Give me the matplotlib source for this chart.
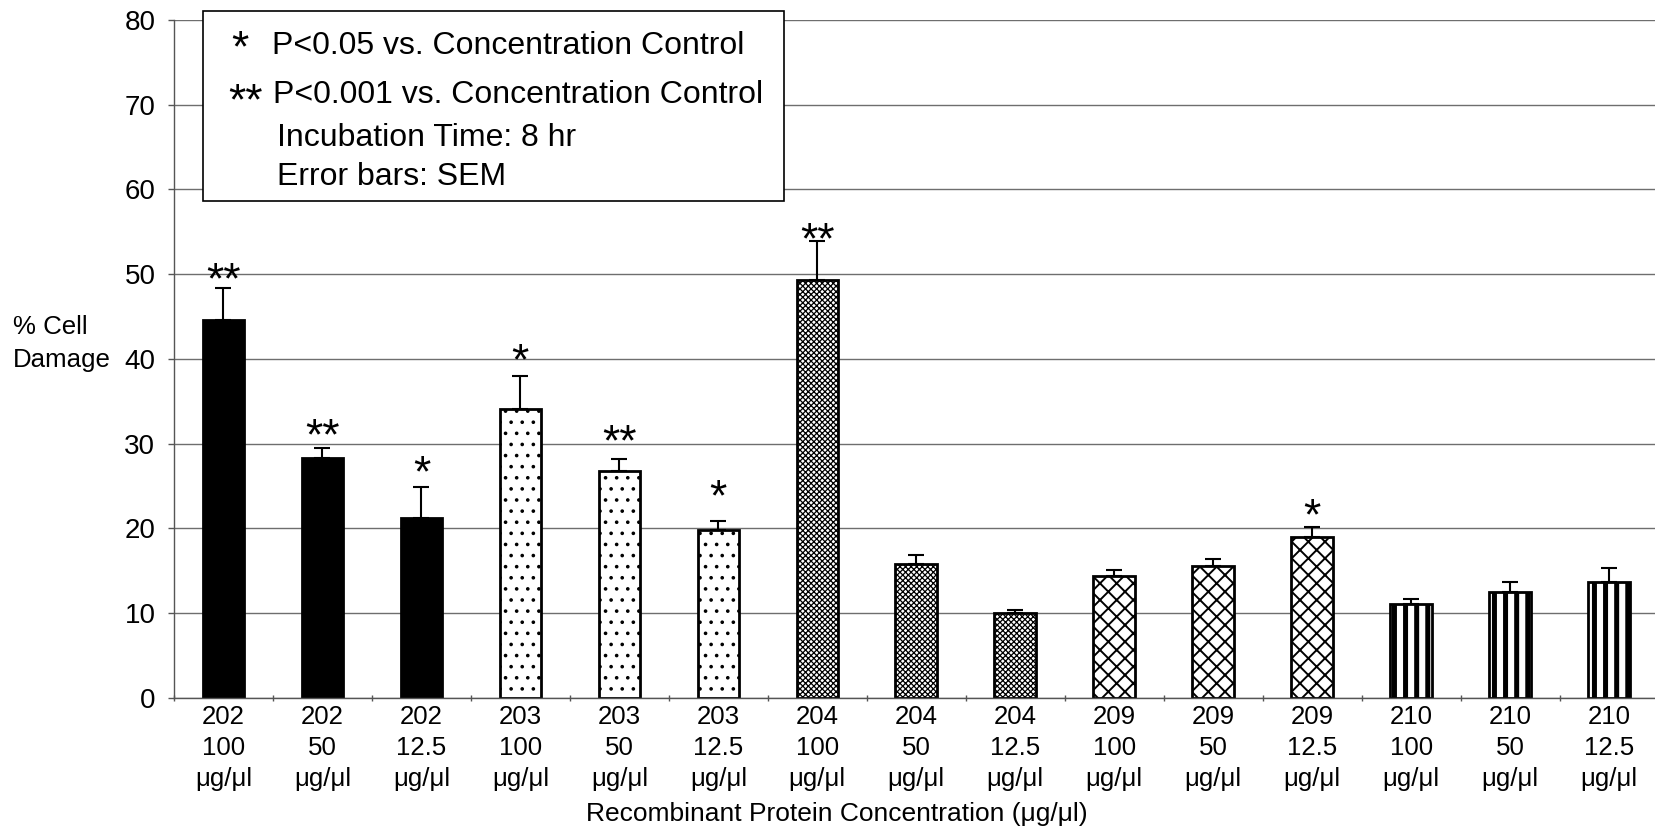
import numpy as np
import matplotlib
matplotlib.use('Agg')
import matplotlib.pyplot as plt
from matplotlib.patches import Rectangle

plt.rcParams['font.family'] = ['Liberation Sans', 'DejaVu Sans']

# data
proteins = ['202', '202', '202', '203', '203', '203', '204', '204', '204',
            '209', '209', '209', '210', '210', '210']
concs = ['100', '50', '12.5'] * 5
damage = [44.6, 28.3, 21.2, 34.1, 26.8, 19.8, 49.3, 15.8, 9.95,
          14.4, 15.5, 19.0, 11.0, 12.5, 13.7]
sem = [3.8, 1.2, 3.7, 3.9, 1.4, 1.0, 4.6, 1.0, 0.4,
       0.7, 0.9, 1.1, 0.7, 1.2, 1.6]
stars = ['**', '**', '*', '*', '**', '*', '**', '', '', '', '', '*', '', '', '']
star_y = [50.2, 31.8, 27.4, 40.7, 31.1, 24.6, 55.0, 0, 0, 0, 0, 22.4, 0, 0, 0]
legend_marks = ['*', '**', '', '']
legend_texts = ['P<0.05 vs. Concentration Control',
                'P<0.001 vs. Concentration Control',
                'Incubation Time: 8 hr',
                'Error bars: SEM']
unit = 'μg/μl'

W, H = 1656, 827
def fx(px):
    return px / W
def fy(py):
    return 1 - py / H

styles = {
    '202': dict(fc='black', hatch=None, hlw=0.5),
    '203': dict(fc='white', hatch='...', hlw=0.5),
    '204': dict(fc='white', hatch='x' * 12, hlw=0.45),
    '209': dict(fc='white', hatch='xxxx', hlw=0.7),
    '210': dict(fc='white', hatch='|||', hlw=1.8),
}

fig = plt.figure(figsize=(W / 200, H / 200), dpi=200)
ax = fig.add_axes([fx(174), fy(697.6), fx(1658.5) - fx(174), (697.6 - 20) / H])

x = np.arange(len(damage))
vals = np.array(damage)
for prot, st in styles.items():
    idx = [i for i, p in enumerate(proteins) if p == prot]
    with plt.rc_context({'hatch.linewidth': st['hlw']}):
        ax.bar(x[idx], vals[idx], width=0.42, facecolor=st['fc'], edgecolor='black',
               linewidth=1.0, hatch=st['hatch'], zorder=2)

ax.errorbar(x, vals, yerr=[np.zeros(len(sem)), sem], fmt='none', ecolor='black',
            elinewidth=0.75, capsize=2.9, capthick=0.75, zorder=3)

for xi, s, sy in zip(x, stars, star_y):
    if s:
        ax.annotate(s, (xi, sy), xytext=(0, -7.6), textcoords='offset points',
                    ha='center', va='baseline', fontsize=16)

ax.set_xlim(-0.5, len(damage) - 0.5)
ax.set_ylim(0, 80)
ax.set_yticks(range(0, 81, 10))
ax.set_axisbelow(True)
ax.yaxis.grid(True, color='#6e6e6e', linewidth=0.5)
ax.set_xticks(x)
ax.set_xticklabels([f'{p}\n{c}\n{unit}' for p, c in zip(proteins, concs)],
                   fontsize=9.3, linespacing=1.38)
ax.set_xticks(np.arange(-0.5, len(damage), 1), minor=True)
ax.tick_params(axis='x', which='major', length=0, pad=2.5)
ax.tick_params(axis='x', which='minor', length=2.5, direction='inout', color='#555', width=0.5)
ax.tick_params(axis='y', length=2.2, width=0.5, color='#555', pad=4.5, labelsize=10)
for side in ['top', 'right']:
    ax.spines[side].set_visible(False)
ax.spines['left'].set_color('#555')
ax.spines['bottom'].set_color('#555')
ax.spines['left'].set_linewidth(0.5)
ax.spines['bottom'].set_linewidth(0.5)

# axis titles
fig.text(fx(13), fy(333.8), '% Cell', fontsize=9.3, ha='left', va='baseline')
fig.text(fx(13), fy(367.2), 'Damage', fontsize=9.3, ha='left', va='baseline')
fig.text(fx(837), fy(821.5), f'Recombinant Protein Concentration ({unit})',
         fontsize=9.5, ha='center', va='baseline')

# legend box
fig.add_artist(Rectangle((fx(203), fy(201)), fx(784) - fx(203), (201 - 11) / H,
                         transform=fig.transFigure, facecolor='white',
                         edgecolor='black', linewidth=0.6, zorder=5))
text_x = [272, 273, 277, 277]
text_c = [42.5, 92, 135, 174]
mark_c = [(240, 38), (245.5, 91)]
for i, (m, t) in enumerate(zip(legend_marks, legend_texts)):
    fig.text(fx(text_x[i]), fy(text_c[i] + 11.4), t, fontsize=11.5, ha='left',
             va='baseline', zorder=6)
    if m:
        mx, my = mark_c[i]
        fig.text(fx(mx), fy(my + 23), m, fontsize=16, ha='center',
                 va='baseline', zorder=6)

fig.savefig('out.png', dpi=200)
